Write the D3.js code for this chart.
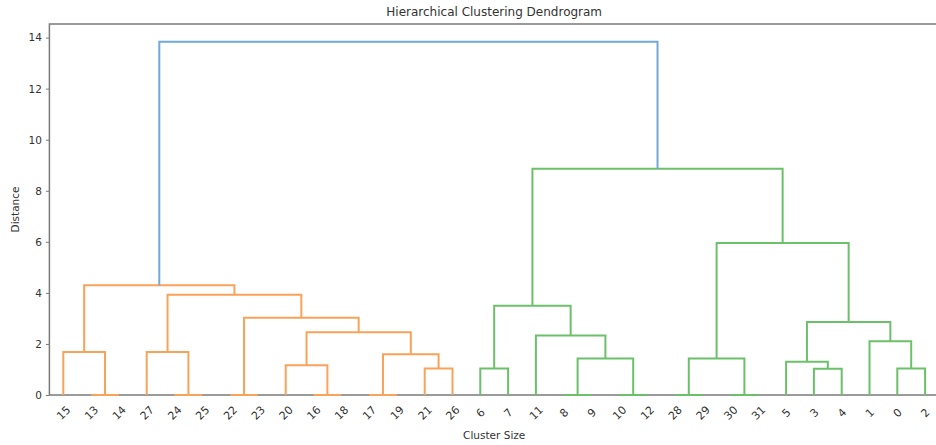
<!DOCTYPE html>
<html>
<head>
<meta charset="utf-8">
<script src="https://cdn.jsdelivr.net/npm/d3@7"></script>
<style>
  body { margin: 0; background: #fff; }
  text { font-family: "DejaVu Sans", sans-serif; fill: #333; }
</style>
</head>
<body>
<div id="chart"></div>
<script>
// leaf labels in the order the dendrogram shows them
var leafOrder = [15, 13, 14, 27, 24, 25, 22, 23, 20, 16, 18, 17, 19, 21, 26,
                 6, 7, 11, 8, 9, 10, 12, 28, 29, 30, 31, 5, 3, 4, 1, 0, 2];

// linkage rows: [left child, right child, distance]; ids >= 32 are earlier merges (32 + row)
var mergeLeft  = [13, 24, 22, 16, 17, 8, 10, 28, 30, 3, 6, 21, 0, 20, 5, 37, 39, 36, 15, 27, 1, 11, 45, 46, 34, 42, 51, 50, 48, 57, 59];
var mergeRight = [14, 25, 23, 18, 19, 9, 12, 29, 31, 4, 7, 26, 2, 35, 41, 38, 40, 43, 32, 33, 44, 47, 49, 52, 54, 53, 56, 58, 55, 60, 61];
var mergeDist  = [0, 0, 0, 0, 0, 0, 0, 0, 0, 1.03, 1.04, 1.04, 1.04, 1.17, 1.30, 1.43, 1.43, 1.60, 1.68, 1.68,
                  2.11, 2.33, 2.46, 2.86, 3.03, 3.50, 3.93, 4.30, 5.95, 8.86, 13.84];

var yTicks = [0, 2, 4, 6, 8, 10, 12, 14];
var clusterColors = ["#f9a25a", "#6cc06a"];
var aboveColor = "#72a9d8";

var width = 936,
    height = 445;
var margin = {top: 24, right: -3, bottom: 50, left: 49.4};
var nLeaves = leafOrder.length;

var x = d3.scaleLinear()
  .domain([0, nLeaves * 10])
  .range([margin.left, width - margin.right]);

var maxDist = d3.max(mergeDist);
var y = d3.scaleLinear()
  .domain([0, maxDist * 1.05])
  .range([height - margin.bottom, margin.top]);

var threshold = 0.7 * maxDist;

var svg = d3.select("#chart").append("svg")
  .attr("width", width)
  .attr("height", height);

// node positions: leaves first, then merges
var posX = {}, posY = {};
leafOrder.forEach(function(id, i) {
  posX[id] = 5 + 10 * i;
  posY[id] = 0;
});
mergeDist.forEach(function(d, k) {
  var id = nLeaves + k;
  posX[id] = (posX[mergeLeft[k]] + posX[mergeRight[k]]) / 2;
  posY[id] = d;
});

// colour: walk from root, each top node under the threshold starts a new cluster
var nodeColor = {};
var clusterIdx = 0;
function paint(id, col) {
  if (id < nLeaves) return;
  var k = id - nLeaves;
  var c = col;
  if (!c && mergeDist[k] <= threshold) {
    c = clusterColors[clusterIdx++ % clusterColors.length];
  }
  nodeColor[id] = c || aboveColor;
  paint(mergeLeft[k], c);
  paint(mergeRight[k], c);
}
paint(nLeaves + mergeDist.length - 1, null);

var links = mergeDist.map(function(d, k) {
  return {id: nLeaves + k, l: mergeLeft[k], r: mergeRight[k], h: d};
});

// frame first, links drawn over it
svg.append("rect")
  .attr("x", x.range()[0])
  .attr("y", margin.top)
  .attr("width", x.range()[1] - x.range()[0])
  .attr("height", y.range()[0] - margin.top)
  .attr("fill", "none")
  .attr("stroke", "#7a7a7a")
  .attr("stroke-width", 1.5);

svg.selectAll("path.link")
  .data(links)
  .enter()
  .append("path")
  .attr("class", "link")
  .attr("fill", "none")
  .attr("stroke", function(d) { return nodeColor[d.id]; })
  .attr("stroke-width", 2)
  .attr("d", function(d) {
    return "M" + x(posX[d.l]) + "," + y(posY[d.l]) +
           "V" + y(d.h) +
           "H" + x(posX[d.r]) +
           "V" + y(posY[d.r]);
  });

// y axis
var yAxis = svg.append("g")
  .attr("transform", "translate(" + x.range()[0] + ",0)")
  .call(d3.axisLeft(y).tickValues(yTicks).tickSize(3.5).tickPadding(4));
yAxis.select(".domain").remove();
yAxis.selectAll("line").attr("stroke", "#7a7a7a");
yAxis.selectAll("text").style("font-size", "10.5px").style("font-family", "DejaVu Sans").attr("fill", "#333");

// x axis with leaf labels
var xAxis = svg.append("g")
  .attr("transform", "translate(0," + y(0) + ")")
  .call(d3.axisBottom(x)
    .tickValues(leafOrder.map(function(d, i) { return 5 + 10 * i; }))
    .tickFormat(function(d, i) { return leafOrder[i]; })
    .tickSize(0));
xAxis.select(".domain").remove();
xAxis.selectAll("text")
  .style("font-size", "11px")
  .style("font-family", "DejaVu Sans")
  .attr("fill", "#333")
  .attr("text-anchor", "middle")
  .attr("dy", null)
  .attr("y", 0)
  .attr("dominant-baseline", "central")
  .attr("transform", "translate(0,18) rotate(-45)");

svg.append("text")
  .attr("x", (x.range()[0] + x.range()[1]) / 2)
  .attr("y", 16)
  .attr("text-anchor", "middle")
  .style("font-size", "12px")
  .text("Hierarchical Clustering Dendrogram");

svg.append("text")
  .attr("x", (x.range()[0] + x.range()[1]) / 2)
  .attr("y", 439)
  .attr("text-anchor", "middle")
  .style("font-size", "10.5px")
  .text("Cluster Size");

svg.append("text")
  .attr("transform", "translate(19," + (margin.top + y.range()[0]) / 2 + ") rotate(-90)")
  .attr("text-anchor", "middle")
  .style("font-size", "10.5px")
  .text("Distance");
</script>
</body>
</html>
